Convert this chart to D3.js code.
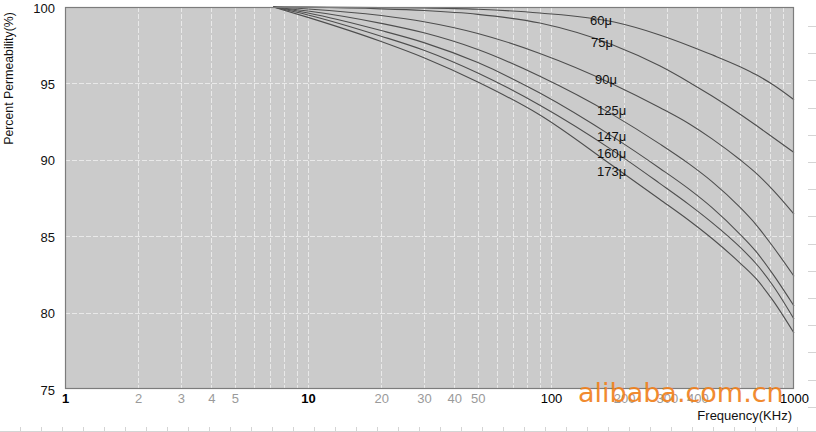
<!DOCTYPE html>
<html><head><meta charset="utf-8">
<script src="https://cdn.jsdelivr.net/npm/d3@7"></script>
<style>body{margin:0;background:#fff}svg{display:block}text{font-family:"Liberation Sans",Arial,sans-serif}</style>
</head><body>
<script>
// ---- data ----
const freqs = [7.2, 10, 20, 30, 50, 90, 180, 280, 370, 460, 600, 700, 820, 1000];
const s60  = [100, 99.99, 99.97, 99.94, 99.85, 99.61, 99.03, 98.17, 97.47, 96.87, 96.09, 95.56, 94.91, 93.93];
const s75  = [100, 99.98, 99.88, 99.77, 99.52, 98.95, 97.52, 96.15, 95.08, 94.17, 92.98, 92.24, 91.46, 90.48];
const s90  = [100, 99.87, 99.44, 99.04, 98.27, 96.96, 94.95, 93.42, 92.36, 91.37, 90.0, 89.11, 88.02, 86.45];
const s125 = [100, 99.74, 98.93, 98.31, 97.22, 95.47, 92.94, 91.04, 89.73, 88.57, 86.88, 85.73, 84.31, 82.38];
const s147 = [100, 99.61, 98.46, 97.67, 96.36, 94.37, 91.5, 89.45, 88.08, 86.87, 85.12, 83.97, 82.5, 80.43];
const s160 = [100, 99.48, 98.09, 97.17, 95.68, 93.57, 90.6, 88.46, 87.07, 85.89, 84.28, 83.18, 81.76, 79.58];
const s173 = [100, 99.32, 97.74, 96.68, 95.09, 92.93, 89.59, 87.42, 86.03, 84.85, 83.24, 82.2, 80.78, 78.66];
const seriesNames = ["60μ", "75μ", "90μ", "125μ", "147μ", "160μ", "173μ"];
const seriesVals = [s60, s75, s90, s125, s147, s160, s173];
// label anchors in data units (frequency, percent)
const labelFreq = [144.7, 146.1, 151.7, 154.6, 154.6, 154.6, 154.6];
const labelPct  = [98.79, 97.35, 94.93, 92.96, 91.2, 90.15, 88.91];
const xMajor = [1, 10, 100, 1000];
const xMinorLabels = [2, 3, 4, 5, 20, 30, 40, 50, 200, 300, 400];
const xGrid = [2,3,4,5,6,7,8,9,10,20,30,40,50,60,70,80,90,100,200,300,400,500,600,700,800,900];
const yTicks = [75, 80, 85, 90, 95, 100];
const yGrid = [80, 85, 90, 95];

// ---- layout ----
const W = 816, H = 432;
const L = 65, R = 794, T = 7, B = 389;
const svg = d3.select("body").append("svg").attr("width", W).attr("height", H);
const x = d3.scaleLog().domain([1, 1000]).range([L, R]);
const y = d3.scaleLinear().domain([75, 100]).range([B, T]);

// page artifacts (table border ticks)
const art = svg.append("g").attr("stroke", "#d4d4d4").attr("stroke-width", 1);
art.append("line").attr("x1", 0).attr("x2", W).attr("y1", 431.5).attr("y2", 431.5);
for (let i = 0; i < 40; i++) {
  const xx = 20.5 + i * 21;
  art.append("line").attr("x1", xx).attr("x2", xx).attr("y1", 427).attr("y2", 432);
}
for (let i = 0; i < 15; i++) {
  const yy = Math.round(26 + i * 27.2) + 0.5;
  art.append("line").attr("x1", 808).attr("x2", W).attr("y1", yy).attr("y2", yy);
}

// plot background
svg.append("rect").attr("x", L).attr("y", T).attr("width", R - L).attr("height", B - T).attr("fill", "#cbcbcb");

// grid
const grid = svg.append("g").attr("stroke", "#e9e9e9").attr("stroke-width", 1).attr("stroke-dasharray", "5,2");
grid.selectAll("line.v").data(xGrid).join("line").attr("class", "v")
  .attr("x1", d => Math.round(x(d)) + 0.5).attr("x2", d => Math.round(x(d)) + 0.5)
  .attr("y1", T).attr("y2", B);
grid.selectAll("line.h").data(yGrid).join("line").attr("class", "h")
  .attr("x1", L).attr("x2", R)
  .attr("y1", d => Math.round(y(d)) + 0.5).attr("y2", d => Math.round(y(d)) + 0.5);

// curves
const line = d3.line().x(d => x(d[0])).y(d => y(d[1])).curve(d3.curveMonotoneX);
svg.append("g").selectAll("path").data(seriesVals).join("path")
  .attr("d", vals => line(freqs.map((f, i) => [f, vals[i]])))
  .attr("fill", "none").attr("stroke", "#4e4e4e").attr("stroke-width", 1.1);

// frame
svg.append("rect").attr("x", L + 0.5).attr("y", T + 0.5).attr("width", R - L - 1).attr("height", B - T - 1)
  .attr("fill", "none").attr("stroke", "#7c7c7c").attr("stroke-width", 1.2);

// curve labels
svg.append("g").selectAll("text").data(seriesNames).join("text")
  .attr("x", (d, i) => x(labelFreq[i])).attr("y", (d, i) => y(labelPct[i]))
  .attr("font-size", 13).attr("fill", "#111").text(d => d);

// y axis
const yAxis = d3.axisLeft(y).tickValues(yTicks).tickSize(0).tickPadding(10).tickFormat(d3.format("d"));
const gy = svg.append("g").attr("transform", `translate(${L},1)`).call(yAxis);
gy.select(".domain").remove();
gy.selectAll("text").attr("font-size", 13).attr("fill", "#111").style("font-family", '"Liberation Sans",Arial,sans-serif');

// x axis majors
const xAxisMaj = d3.axisBottom(x).tickValues(xMajor).tickSize(0).tickPadding(5).tickFormat(d3.format("d"));
const gx = svg.append("g").attr("transform", `translate(0,${B})`).call(xAxisMaj);
gx.select(".domain").remove();
gx.selectAll("text").attr("font-size", 13).attr("fill", "#000")
  .attr("font-weight", d => d <= 10 ? "bold" : "normal")
  .style("font-family", '"Liberation Sans",Arial,sans-serif');

// x axis minor labels
const xAxisMin = d3.axisBottom(x).tickValues(xMinorLabels).tickSize(0).tickPadding(5).tickFormat(d3.format("d"));
const gx2 = svg.append("g").attr("transform", `translate(0,${B})`).call(xAxisMin);
gx2.select(".domain").remove();
gx2.selectAll("text").attr("font-size", 13).attr("fill", "#9a9a9a")
  .style("font-family", '"Liberation Sans",Arial,sans-serif');

// axis titles
svg.append("text").attr("transform", "translate(13,78.5) rotate(-90)").attr("text-anchor", "middle")
  .attr("font-size", 12.3).attr("fill", "#111").text("Percent Permeability(%)");
svg.append("text").attr("x", 792).attr("y", 420).attr("text-anchor", "end")
  .attr("font-size", 13).attr("fill", "#111").text("Frequency(KHz)");

// watermark
svg.append("text").attr("x", 578).attr("y", 402).attr("font-size", 27)
  .style("font-family", '"DejaVu Sans",sans-serif').attr("fill", "#f0821e").attr("opacity", 0.92)
  .text("alibaba.com.cn");
</script>
</body></html>
